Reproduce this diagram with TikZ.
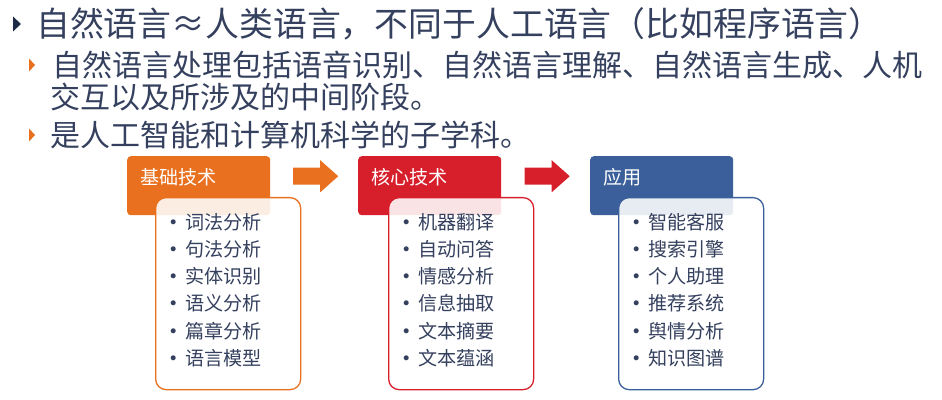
\documentclass[tikz,border=0pt]{standalone}
\usepackage{fontspec}
\setmainfont{Noto Sans CJK SC}
\usetikzlibrary{calc}
\definecolor{textc}{HTML}{34405E}
\definecolor{darkc}{HTML}{1F2A44}
\definecolor{orangec}{HTML}{E8701E}
\definecolor{redc}{HTML}{D71F2B}
\definecolor{bluec}{HTML}{3A5F9A}

\tikzset{
  hdr/.style={fill=#1, rounded corners=3pt, minimum width=4.29cm, minimum height=1.77cm, anchor=north west, inner sep=0},
  hdrtext/.style={text=white, font=\fontsize{16.3}{18}\selectfont, anchor=west, inner sep=0},
  listbox/.style={draw=#1, line width=1.1pt, fill=white, fill opacity=0.88, rounded corners=9pt, minimum width=4.35cm, minimum height=5.76cm, anchor=north west, inner sep=0},
  item/.style={text=textc, font=\fontsize{16.3}{18}\selectfont, anchor=west, inner sep=0},
  line1/.style={text=textc, font=\fontsize{28.9}{30}\selectfont, anchor=west, inner sep=0},
  line2/.style={text=textc, font=\fontsize{25.6}{27}\selectfont, anchor=west, inner sep=0}
}
\newcommand{\blockarrow}[2]{%
  \fill[#1] ($(#2)+(-22,-8.5)$) -- ++(27,0) -- ++(0,-7.5) -- ++(18,16) -- ++(-18,16) -- ++(0,-7.5) -- ++(-27,0) -- cycle;}
\newcommand{\itm}{\raisebox{3.4pt}{\fontsize{11}{11}\selectfont$\bullet$}\hspace{7.5pt}}

\begin{document}
\begin{tikzpicture}[x=0.03cm, y=-0.03cm]
  \useasboundingbox (0,0) rectangle (942,400);

  % bullet text
  \node[line1] (t1) at (36,24) {自然语言≈人类语言，不同于人工语言（比如程序语言）};
  \node[line2] (t2) at (52,65) {自然语言处理包括语音识别、自然语言理解、自然语言生成、人机};
  \node[line2] (t3) at (50,97) {交互以及所涉及的中间阶段。};
  \node[line2] (t4) at (50,135) {是人工智能和计算机科学的子学科。};
  \fill[darkc] ($(t1.west)+(-23,-7.5)$) -- ++(8,7.5) -- ++(-8,7.5) -- cycle;
  \fill[orangec] ($(t2.west)+(-23,-6.5)$) -- ++(6,6.5) -- ++(-6,6.5) -- cycle;
  \fill[orangec] ($(t4.west)+(-21,-6.5)$) -- ++(6,6.5) -- ++(-6,6.5) -- cycle;

  % headers
  \node[hdr=orangec] (h1) at (127,156) {};
  \node[hdr=redc] (h2) at (358,156) {};
  \node[hdr=bluec] (h3) at (590,156) {};
  \node[hdrtext] (h1t) at ($(h1.north west)+(13,21)$) {基础技术};
  \node[hdrtext] (h2t) at ($(h2.north west)+(13,21)$) {核心技术};
  \node[hdrtext] (h3t) at ($(h3.north west)+(13,21)$) {应用};

  % arrows between headers
  \coordinate (m1) at ($(h1.east)!0.5!(h2.west)+(1,-9.5)$);
  \coordinate (m2) at ($(h2.east)!0.5!(h3.west)+(1,-9.5)$);
  \blockarrow{orangec}{m1}
  \blockarrow{redc}{m2}

  % list boxes
  \node[listbox=orangec] (l1) at (155,197) {};
  \node[listbox=redc] (l2) at (388,197) {};
  \node[listbox=bluec] (l3) at (618,197) {};

  \foreach \t [count=\k] in {词法分析,句法分析,实体识别,语义分析,篇章分析,语言模型}
    \node[item] (a\k) at ($(l1.north west)+(15,{25+27.2*(\k-1)})$) {\itm\t};
  \foreach \t [count=\k] in {机器翻译,自动问答,情感分析,信息抽取,文本摘要,文本蕴涵}
    \node[item] (b\k) at ($(l2.north west)+(15,{25+27.2*(\k-1)})$) {\itm\t};
  \foreach \t [count=\k] in {智能客服,搜索引擎,个人助理,推荐系统,舆情分析,知识图谱}
    \node[item] (c\k) at ($(l3.north west)+(15,{25+27.2*(\k-1)})$) {\itm\t};
\end{tikzpicture}
\end{document}
